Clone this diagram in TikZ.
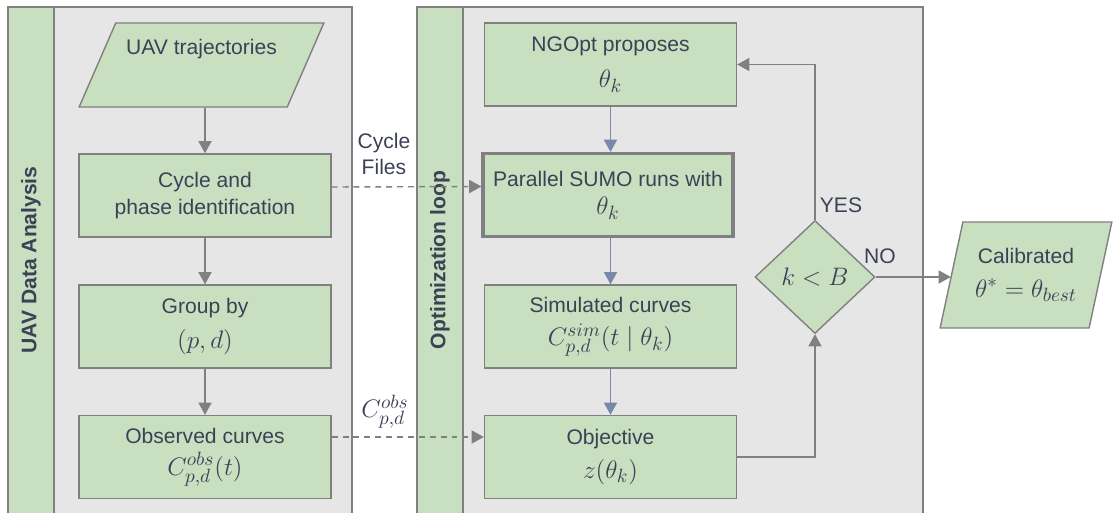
\documentclass[tikz,border=0pt]{standalone}
\usepackage{fontspec}
\setmainfont{Liberation Sans}
\usetikzlibrary{shapes.geometric,arrows.meta}
\definecolor{panelgray}{HTML}{E6E6E6}
\definecolor{boxgreen}{HTML}{C8DFC0}
\definecolor{linegray}{HTML}{808080}
\definecolor{flowblue}{HTML}{7788A8}
\definecolor{inktext}{HTML}{3B4256}
\newcommand{\mth}[1]{{\fontsize{15}{18}\selectfont$#1$}}
\tikzset{
  box/.style={draw=linegray,fill=boxgreen,line width=0.8pt,minimum width=5.04cm,minimum height=1.66cm,
    inner sep=2pt,align=center,text=inktext,font=\fontsize{12}{15}\selectfont},
  iobox/.style={box,trapezium,trapezium stretches=true},
  decision/.style={box,diamond,aspect=1,minimum width=2.4cm,minimum height=2.26cm,inner sep=0pt},
  panel/.style={draw=linegray,fill=panelgray,line width=0.8pt},
  strip/.style={draw=linegray,fill=boxgreen,line width=0.8pt},
  title/.style={rotate=90,text=inktext,font=\fontsize{12}{14}\selectfont\bfseries},
  note/.style={text=inktext,align=center,font=\fontsize{12}{15}\selectfont},
  flow/.style={draw=linegray,line width=0.8pt,-{Triangle[length=7pt,width=7.5pt]}},
  loopflow/.style={flow,draw=flowblue,-{Triangle[length=7pt,width=7.5pt,fill=flowblue]}},
  dataflow/.style={flow,dash pattern=on 3.4pt off 2.8pt}
}
\begin{document}
\begin{tikzpicture}[x=0.02cm,y=-0.02cm]
\useasboundingbox (0,0) rectangle (1113,513);
\clip (0,0) rectangle (1113,513);
% panels
\draw[panel] (8,7) rectangle (352,530);
\draw[strip] (8,7) rectangle (54,530);
\draw[panel] (417,7) rectangle (923,530);
\draw[strip] (417,7) rectangle (463,530);
\node[title] (uavtitle) at (31,260) {UAV Data Analysis};
\node[title] (opttitle) at (440,260) {Optimization loop};
% UAV data analysis
\node[iobox,trapezium left angle=60,trapezium right angle=120,minimum width=4.9cm,minimum height=1.68cm] (traj) at (201.5,65) {UAV trajectories\\[1pt]\strut};
\node[box] (cyc) at (205,195.5) {Cycle and\\phase identification};
\node[box] (grp) at (205,326.5) {Group by\\[5pt]\mth{(p,d)}};
\node[box] (obs) at (205,457) {Observed curves\\[3pt]\mth{C_{p,d}^{obs}(t)}};
% optimization loop
\node[box] (ngo) at (610.5,64.5) {NGOpt proposes\\[6pt]\mth{\theta_k}};
\node[box,line width=1.8pt,minimum width=5cm] (sumo) at (608,195) {Parallel SUMO runs with\\[1pt]\mth{\theta_k}};
\node[box] (sim) at (610.5,326.5) {Simulated curves\\[4pt]\mth{C_{p,d}^{sim}(t\mid\theta_k)}};
\node[box] (obj) at (610.5,457) {Objective\\[4pt]\mth{z(\theta_k)}};
\node[decision] (dec) at (815,277) {\mth{k<B}};
\node[iobox,trapezium left angle=72,trapezium right angle=108,minimum width=3.46cm,minimum height=2.12cm] (cal) at (1026,275) {Calibrated\\[4pt]\mth{\theta^{*}=\theta_{best}}};
% connectors
\draw[flow] (traj.south -| cyc.north) -- (cyc.north);
\draw[flow] (cyc) -- (grp);
\draw[flow] (grp) -- (obs);
\draw[loopflow] (ngo) -- (sumo.north -| ngo.south);
\draw[loopflow] (sumo.south -| sim.north) -- (sim);
\draw[loopflow] (sim) -- (obj);
\draw[flow] (obj.east) -| (dec.south);
\draw[flow] (dec.north) |- (ngo.east);
\draw[flow] (dec.east) -- (dec.east -| cal.west);
\draw[dataflow] ([yshift=0.17cm]cyc.east) -- ([yshift=0.17cm]sumo.west);
\draw[dataflow] ([yshift=0.4cm]obs.east) -- ([yshift=0.4cm]obj.west);
\node[note] (cyclefiles) at (384,154) {Cycle\\Files};
\node[note] (obslabel) at (385,412) {\mth{C_{p,d}^{obs}}};
\node[note] (yes) at (841,205) {YES};
\node[note] (no) at (880,256) {NO};
\end{tikzpicture}
\end{document}
